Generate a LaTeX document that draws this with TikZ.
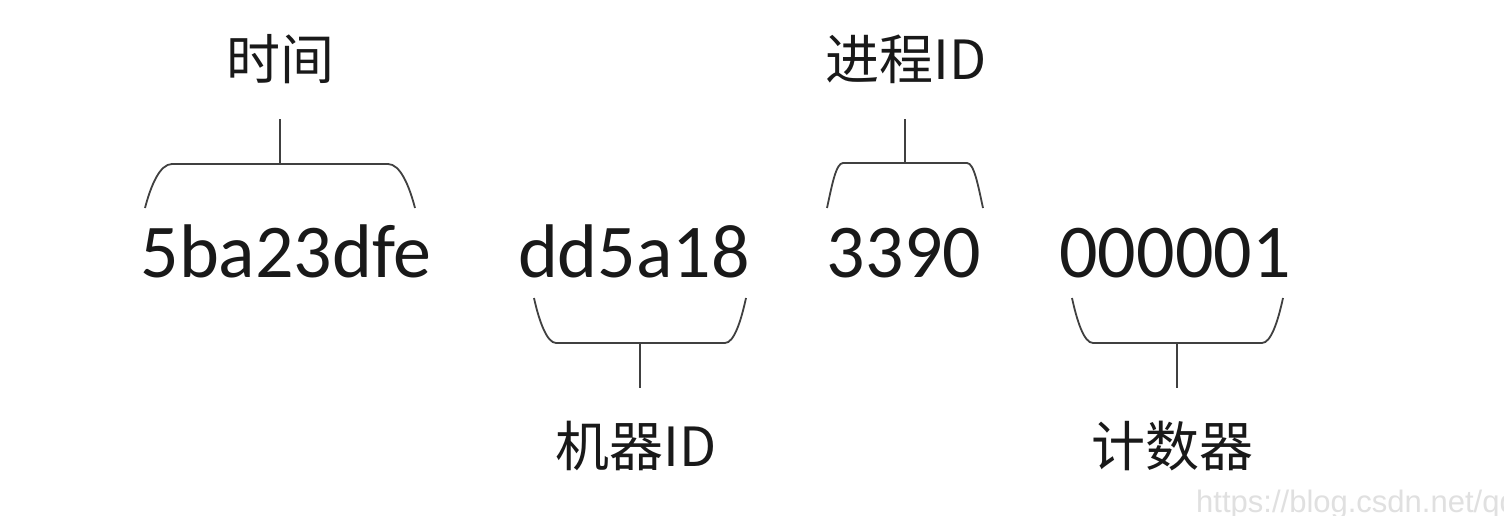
\documentclass[tikz,border=0pt]{standalone}
\usepackage{fontspec}
\setmainfont{Carlito}
\newfontfamily\cjk{Noto Sans CJK SC}
\newfontfamily\wmfont{Liberation Sans}
\begin{document}
\begin{tikzpicture}[x=1pt,y=-1pt,
  hexnum/.style={font=\fontsize{76}{80}\selectfont, inner sep=0pt, anchor=base, text=black!90},
  cnlabel/.style={font=\cjk\fontsize{54}{58}\selectfont, inner sep=0pt, text=black!90},
  bracket/.style={line width=1.8pt, draw=black!75},
  stem/.style={line width=1.8pt, draw=black!75}]
\useasboundingbox (0,0) rectangle (1504,516);
\fill[white] (0,0) rectangle (1504,516);
% numbers
\node[hexnum] (t) at (286,277) {5ba23dfe};
\node[hexnum] (m) at (634,277) {dd5a18};
\node[hexnum] (p) at (904,277) {3390};
\node[hexnum] (c) at (1175,277) {000001};
% labels
\node[cnlabel] (lt) at (280,59) {时间};
\node[cnlabel] (lp) at (906,59) {进程ID};
\node[cnlabel] (lm) at (636,446) {机器ID};
\node[cnlabel] (lc) at (1172,446) {计数器};
% bracket midpoints
\coordinate (bt) at (280,164);
\coordinate (bp) at (905,163);
\coordinate (bm) at (640,343);
\coordinate (bc) at (1177,343);
% brackets
\draw[bracket] (145,208) .. controls (151,185) and (160,164) .. (172,164) -- (388,164) .. controls (400,164) and (409,185) .. (415,208);
\draw[bracket] (827,208) .. controls (832,185) and (836,163) .. (843,163) -- (967,163) .. controls (974,163) and (978,185) .. (983,208);
\draw[bracket] (534,298) .. controls (539,321) and (547,343) .. (556,343) -- (725,343) .. controls (734,343) and (741,321) .. (746,298);
\draw[bracket] (1072,298) .. controls (1077,321) and (1084,343) .. (1093,343) -- (1262,343) .. controls (1271,343) and (1278,321) .. (1283,298);
% stems
\draw[stem] (bt) -- (280,119);
\draw[stem] (bp) -- (905,119);
\draw[stem] (bm) -- (640,388);
\draw[stem] (bc) -- (1177,388);
% watermark
\node[font=\wmfont\fontsize{31}{34}\selectfont, text=black!12, anchor=base west, inner sep=0pt] (wm) at (1196,512) {https://blog.csdn.net/qq};
\end{tikzpicture}
\end{document}
